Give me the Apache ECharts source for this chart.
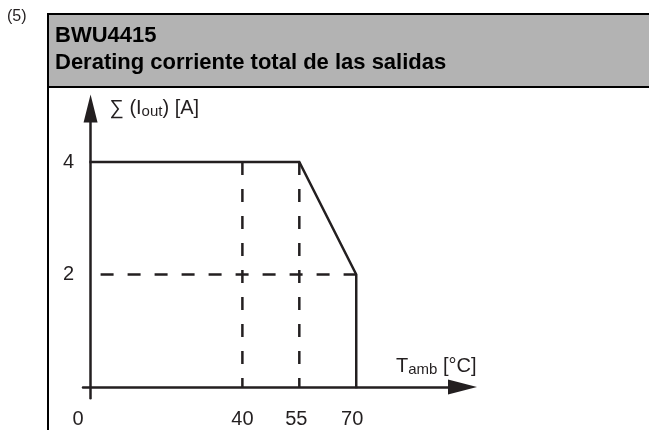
<!DOCTYPE html>
<html>
<head>
<meta charset="utf-8">
<script src="https://cdn.jsdelivr.net/npm/echarts@6/dist/echarts.min.js"></script>
<style>
  html, body { margin: 0; padding: 0; background: #fff; }
  #chart { width: 649px; height: 430px; }
</style>
</head>
<body>
<div id="chart"></div>
<script>
// derating curve (T amb in °C, total output current in A)
const curveT = [0, 55, 70, 70];
const curveI = [4, 4, 2, 0];

// dashed guide lines
const guideHT = [0, 70];
const guideHI = [2, 2];
const guideVT = [40, 55];
const guideVI = [4, 0];

// tick labels
const xTicks = [0, 40, 55, 70];
const yTicks = [2, 4];

const INK = '#231f20';
const FONT = '"Liberation Sans", Arial, sans-serif';

const chart = echarts.init(document.getElementById('chart'), null, { renderer: 'canvas' });

const toPairs = (xs, ys) => xs.map((x, i) => [x, ys[i]]);

const subStyle = { fontSize: 15, lineHeight: 8, verticalAlign: 'bottom', color: INK, fontFamily: FONT };

// horizontal guide starts with a gap, vertical ones start with a dash
const dashedSeries = [
  { name: 'guide-h', data: toPairs(guideHT, guideHI), offset: 17 },
  ...guideVT.map(t => ({ name: 'guide-' + t, data: toPairs([t, t], guideVI), offset: 0 }))
].map(s => ({
  type: 'line',
  name: s.name,
  data: s.data,
  symbol: 'none',
  silent: true,
  z: 2,
  lineStyle: { color: INK, width: 2.5, type: [13, 14], dashOffset: s.offset }
}));

const option = {
  animation: false,
  backgroundColor: '#fff',
  textStyle: { fontFamily: FONT },
  graphic: [
    {
      type: 'text', x: 7, y: 17,
      style: { text: '(5)', font: '16px ' + FONT, fill: INK, verticalAlign: 'middle' }
    },
    {
      type: 'rect', shape: { x: 48, y: 14, width: 700, height: 500 },
      style: { fill: 'none', stroke: '#000', lineWidth: 2 }, z: 10
    },
    {
      type: 'rect', shape: { x: 48, y: 14, width: 700, height: 73 },
      style: { fill: '#b3b3b3', stroke: '#000', lineWidth: 2 }, z: 9
    },
    {
      type: 'text', x: 55, y: 36, z: 11,
      style: { text: 'BWU4415', font: 'bold 22px ' + FONT, fill: '#000', verticalAlign: 'middle' }
    },
    {
      type: 'text', x: 55, y: 63, z: 11,
      style: { text: 'Derating corriente total de las salidas', font: 'bold 22px ' + FONT, fill: '#000', verticalAlign: 'middle' }
    }
  ],
  grid: { left: 83, right: 186.5, top: 108.6, bottom: 31.75, containLabel: false },
  xAxis: {
    type: 'value',
    min: -2,
    max: 98,
    name: 'T{sub|amb} [°C]',
    nameLocation: 'end',
    nameGap: 14,
    nameTextStyle: {
      color: INK, fontSize: 20, fontFamily: FONT,
      align: 'right', verticalAlign: 'bottom', lineHeight: 22,
      padding: [0, 0, 10, 0],
      rich: { sub: subStyle }
    },
    axisLine: {
      onZero: true,
      symbol: ['none', 'triangle'],
      symbolSize: [15, 29],
      lineStyle: { color: INK, width: 2.5 }
    },
    axisTick: { show: false },
    splitLine: { show: false },
    axisLabel: {
      customValues: xTicks,
      margin: 11,
      color: INK,
      fontSize: 20,
      fontFamily: FONT,
      formatter: v => `{t${v}|${v}}`,
      rich: {
        t0: { padding: [0, 25, 0, 0] },
        t40: {},
        t55: { padding: [0, 6, 0, 0] },
        t70: { padding: [0, 8, 0, 0] }
      }
    }
  },
  yAxis: {
    type: 'value',
    min: -0.2,
    max: 4.95,
    name: '∑ (I{sub|out}) [A]',
    nameLocation: 'end',
    nameGap: 0,
    nameTextStyle: {
      color: INK, fontSize: 20, fontFamily: FONT,
      align: 'left', verticalAlign: 'middle', lineHeight: 22,
      padding: [0, 0, 0, 19],
      rich: { sub: subStyle }
    },
    axisLine: {
      onZero: true,
      symbol: ['none', 'triangle'],
      symbolSize: [14, 28],
      lineStyle: { color: INK, width: 2.5 }
    },
    axisTick: { show: false },
    splitLine: { show: false },
    axisLabel: {
      customValues: yTicks,
      margin: 9,
      color: INK,
      fontSize: 20,
      fontFamily: FONT
    }
  },
  series: [
    ...dashedSeries,
    {
      type: 'line',
      name: 'derating',
      data: toPairs(curveT, curveI),
      symbol: 'none',
      silent: true,
      z: 3,
      lineStyle: { color: INK, width: 2.5, type: 'solid', cap: 'square', join: 'miter' }
    }
  ]
};

chart.setOption(option);
</script>
</body>
</html>
